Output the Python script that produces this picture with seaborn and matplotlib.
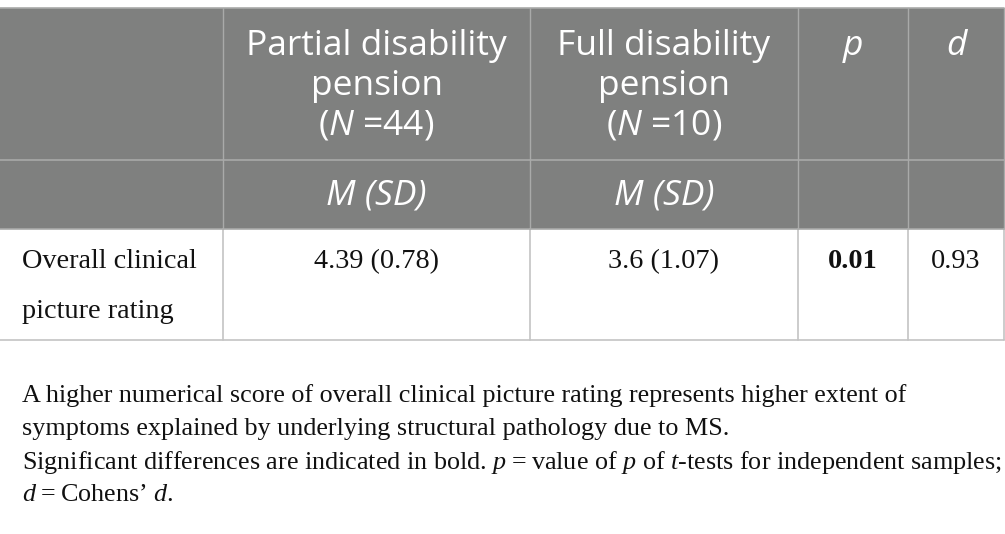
import matplotlib
matplotlib.use("Agg")
import matplotlib.pyplot as plt
import seaborn as sns
from matplotlib.patches import Rectangle

# table content
group_headers = [["Partial disability", "pension", "($\\mathsf{N}$ =44)"],
                 ["Full disability", "pension", "($\\mathsf{N}$ =10)"],
                 ["p"],
                 ["d"]]
sub_headers = ["M (SD)", "M (SD)", "", ""]
row_label = ["Overall clinical", "picture rating"]
row_values = ["4.39 (0.78)", "3.6 (1.07)", "0.01", "0.93"]
bold_cells = [False, False, True, False]
notes = [
    "A higher numerical score of overall clinical picture rating represents higher extent of",
    "symptoms explained by underlying structural pathology due to MS.",
    "Significant differences are indicated in bold. $\\mathit{p}$\u2009=\u2009value of $\\mathit{p}$ of $\\mathit{t}$-tests for independent samples;",
    "$\\mathit{d}$\u2009=\u2009Cohens\u2019 $\\mathit{d}$.",
]

# layout (pixels)
col_edges = [0, 223, 530, 798, 908, 1004]
row_edges = [8, 160, 229, 340]
header_gray = "#7f807f"

sns.set_theme(style="white")
plt.rcParams["mathtext.fontset"] = "custom"
plt.rcParams["mathtext.sf"] = "Open Sans:italic"
plt.rcParams["mathtext.it"] = "Liberation Serif:italic"
plt.rcParams["mathtext.rm"] = "Liberation Serif"

fig = plt.figure(figsize=(10.05, 5.34), dpi=100)
ax = fig.add_axes([0, 0, 1, 1])
ax.set_xlim(0, 1005)
ax.set_ylim(534, 0)
ax.axis("off")

# header background
ax.add_patch(Rectangle((col_edges[0], row_edges[0]), col_edges[-1] - col_edges[0],
                       row_edges[2] - row_edges[0], facecolor=header_gray, edgecolor="none"))

# grid lines
for x in col_edges[1:]:
    ax.plot([x, x], [row_edges[0], row_edges[2]], color="#a9aaa9", lw=1)
    ax.plot([x, x], [row_edges[2], row_edges[3]], color="#c4c4c4", lw=1.2)
for y in row_edges[:3]:
    ax.plot([col_edges[0], col_edges[-1]], [y, y], color="#a9aaa9", lw=1.2)
ax.plot([col_edges[0], col_edges[-1]], [row_edges[3], row_edges[3]], color="#c4c4c4", lw=1.2)

sans = "Open Sans"
serif = "Liberation Serif"
centers = [(col_edges[i + 1] + col_edges[i + 2]) / 2 for i in range(4)]

for cx, lines in zip(centers, group_headers):
    for j, line in enumerate(lines):
        style = "italic" if len(lines) == 1 else "normal"
        ax.text(cx, 46 + 40 * j, line, ha="center", va="center", color="white",
                fontsize=25.5, family=sans, style=style)

for cx, txt in zip(centers, sub_headers):
    if txt:
        ax.text(cx, 195, txt, ha="center", va="center", color="white",
                fontsize=25.5, family=sans, style="italic")

for j, line in enumerate(row_label):
    ax.text(22, 262 + 50 * j, line, ha="left", va="center", color="#111111",
            fontsize=20.3, family=serif)

for cx, val, b in zip(centers, row_values, bold_cells):
    ax.text(cx, 262, val, ha="center", va="center", color="#111111",
            fontsize=20.3, family=serif, weight="bold" if b else "normal")

for j, line in enumerate(notes):
    ax.text(22, 396 + 33 * j, line, ha="left", va="center", color="#111111",
            fontsize=18.8, family=[serif, "DejaVu Serif"])

fig.savefig("out.png", dpi=100)
